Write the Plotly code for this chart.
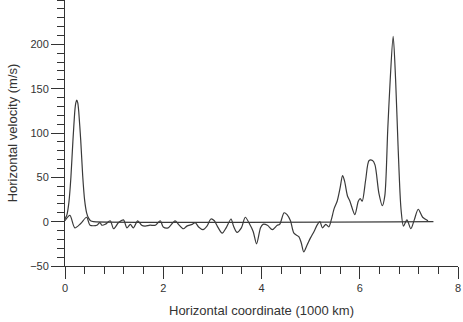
import plotly.graph_objects as go

# Series A: zero baseline with the left jet peak
xa = [0.0, 0.04, 0.08, 0.12, 0.16, 0.2, 0.22, 0.24, 0.26, 0.28, 0.32, 0.36, 0.4, 0.44,
      0.48, 0.52, 0.58, 7.5]
ya = [3, 8, 22, 50, 90, 125, 134, 137, 134, 124, 92, 52, 24, 10,
      4, 1, 0, 0]

# Series B: wiggly horizontal velocity
xb = [0.0, 0.1, 0.2, 0.32, 0.44, 0.51, 0.65, 0.71, 0.75, 0.82, 0.92, 0.99, 1.09, 1.19,
      1.26, 1.33, 1.39, 1.48, 1.56, 1.63, 1.73, 1.84, 1.94, 2.0, 2.1, 2.24, 2.31, 2.41,
      2.48, 2.59, 2.65, 2.72, 2.81, 2.89, 2.97, 3.04, 3.1, 3.2, 3.28, 3.38, 3.43, 3.5,
      3.59, 3.67, 3.76, 3.83, 3.9, 3.98, 4.03, 4.12, 4.22, 4.32, 4.37, 4.46, 4.52, 4.59,
      4.66, 4.76, 4.81, 4.86, 4.93, 5.0, 5.07, 5.14, 5.19, 5.24, 5.31, 5.37, 5.42, 5.48,
      5.54, 5.6, 5.65, 5.69, 5.75, 5.8, 5.9, 5.97, 6.01, 6.05, 6.12, 6.19, 6.26, 6.31,
      6.39, 6.46, 6.51, 6.57, 6.62, 6.68, 6.73, 6.78, 6.84, 6.89, 6.96, 7.04, 7.11, 7.19,
      7.28, 7.39]
yb = [1, 7, -7, -2, 5, -4, -4, -1, -4, -3, 1, -8, -1, 2,
      -7, -3, -7, 1, -4, -5, -4, -4, 1, -6, -7, 1, -3, -8,
      -5, -3, -1, -6, -9, -5, 3, 1, -5, -13, -7, 3, -5, -12,
      -7, 5, -3, -11, -25, -7, -3, -4, -9, -4, -3, 10, 8, 1,
      -13, -17, -24, -34, -26, -18, -11, -3, 0, -7, -3, -6, 2, 15,
      23, 38, 52, 46, 29, 23, 8, 23, 26, 23, 47, 69, 69, 64,
      32, 18, 29, 104, 160, 209, 160, 85, 14, -5, 2, -8, 2, 14,
      5, 1]

xticks = [0, 2, 4, 6, 8]
yticks = [-50, 0, 50, 100, 150, 200]

line_color = "#3a3a3a"
fig = go.Figure()
fig.add_trace(go.Scatter(x=xa, y=ya, mode="lines",
                         line=dict(color=line_color, width=1.2, shape="spline", smoothing=0.5)))
fig.add_trace(go.Scatter(x=xb, y=yb, mode="lines",
                         line=dict(color=line_color, width=1.2, shape="spline", smoothing=0.8)))

font = "Liberation Sans, Arial, sans-serif"
fig.update_layout(
    width=463, height=322,
    margin=dict(l=65, r=5, t=0, b=56),
    plot_bgcolor="white", paper_bgcolor="white",
    showlegend=False,
    font=dict(family=font, size=11, color="#333333"),
    xaxis=dict(
        range=[0, 8], tickmode="array", tickvals=xticks,
        ticks="outside", ticklen=12, tickcolor="#333333", tickwidth=1,
        showline=True, linecolor="#333333", linewidth=1,
        showgrid=False, zeroline=False,
        minor=dict(tickmode="linear", tick0=0, dtick=0.4, ticks="outside",
                   ticklen=7, tickcolor="#333333", showgrid=False),
        title=dict(text="Horizontal coordinate (1000 km)",
                   font=dict(family=font, size=13, color="#333333"), standoff=12),
    ),
    yaxis=dict(
        range=[-50, 250], tickmode="array", tickvals=yticks,
        ticks="outside", ticklen=13, tickcolor="#333333", tickwidth=1,
        showline=True, linecolor="#333333", linewidth=1,
        showgrid=False, zeroline=False,
        minor=dict(tickmode="linear", tick0=0, dtick=10, ticks="outside",
                   ticklen=7, tickcolor="#333333", showgrid=False),
        title=dict(text="Horizontal velocity (m/s)",
                   font=dict(family=font, size=13, color="#333333"), standoff=9),
    ),
)
fig.write_html("out.html")
